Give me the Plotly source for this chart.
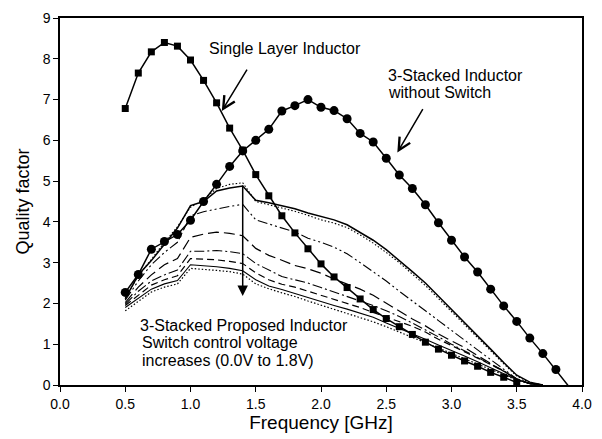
import plotly.graph_objects as go

# Frequency grid (GHz)
freq_single = [0.5, 0.6, 0.7, 0.8, 0.9, 1.0, 1.1, 1.2, 1.3, 1.4, 1.5, 1.6, 1.7, 1.8, 1.9, 2.0,
               2.1, 2.2, 2.3, 2.4, 2.5, 2.6, 2.7, 2.8, 2.9, 3.0, 3.1, 3.2, 3.3, 3.4, 3.5]
q_single = [6.78, 7.65, 8.17, 8.40, 8.31, 7.97, 7.47, 6.92, 6.30, 5.76, 5.16, 4.64, 4.15, 3.73,
            3.34, 2.97, 2.65, 2.39, 2.11, 1.85, 1.63, 1.43, 1.24, 1.05, 0.88, 0.73, 0.59, 0.46,
            0.31, 0.19, 0.06]

freq_stacked = [0.5, 0.6, 0.7, 0.8, 0.9, 1.0, 1.1, 1.2, 1.3, 1.4, 1.5, 1.6, 1.7, 1.8, 1.9, 2.0,
                2.1, 2.2, 2.3, 2.4, 2.5, 2.6, 2.7, 2.8, 2.9, 3.0, 3.1, 3.2, 3.3, 3.4, 3.5, 3.6,
                3.7, 3.8, 3.9]
q_stacked = [2.27, 2.71, 3.33, 3.52, 3.69, 4.04, 4.50, 4.92, 5.36, 5.74, 6.00, 6.27, 6.72, 6.85,
             7.00, 6.81, 6.73, 6.53, 6.17, 5.96, 5.56, 5.15, 4.82, 4.42, 3.98, 3.55, 3.14, 2.77,
             2.35, 1.94, 1.56, 1.15, 0.77, 0.38, -0.04]

freq_prop = [0.5, 0.6, 0.7, 0.8, 0.9, 1.0, 1.1, 1.2, 1.3, 1.4, 1.5, 1.6, 1.7, 1.8, 1.9, 2.0,
             2.1, 2.2, 2.3, 2.4, 2.5, 2.6, 2.7, 2.8, 2.9, 3.0, 3.1, 3.2, 3.3, 3.4, 3.5, 3.6, 3.7]
q_prop = [
    [2.12, 2.70, 3.05, 3.45, 3.85, 4.40, 4.50, 4.76, 4.83, 4.88, 4.53, 4.47, 4.40, 4.32, 4.22,
     4.13, 4.05, 3.93, 3.75, 3.55, 3.32, 3.06, 2.78, 2.50, 2.18, 1.85, 1.52, 1.20, 0.88, 0.55,
     0.24, 0.07, 0.00],
    [2.12, 2.68, 3.08, 3.50, 3.88, 4.36, 4.55, 4.82, 4.92, 4.96, 4.50, 4.42, 4.34, 4.26, 4.16,
     4.05, 3.97, 3.86, 3.68, 3.48, 3.25, 3.00, 2.72, 2.44, 2.12, 1.80, 1.47, 1.15, 0.84, 0.52,
     0.22, 0.06, 0.00],
    [2.08, 2.55, 2.95, 3.25, 3.50, 4.15, 4.25, 4.32, 4.38, 4.43, 4.05, 3.95, 3.85, 3.75, 3.60,
     3.50, 3.38, 3.22, 3.00, 2.78, 2.55, 2.30, 2.05, 1.82, 1.58, 1.33, 1.10, 0.86, 0.62, 0.38,
     0.15, 0.04, 0.00],
    [2.02, 2.40, 2.70, 2.95, 3.10, 3.62, 3.70, 3.75, 3.72, 3.66, 3.35, 3.18, 3.06, 2.93, 2.85,
     2.74, 2.60, 2.48, 2.35, 2.20, 2.00, 1.82, 1.62, 1.45, 1.25, 1.08, 0.92, 0.72, 0.53, 0.35,
     0.14, 0.03, 0.00],
    [1.98, 2.30, 2.55, 2.70, 2.82, 3.28, 3.28, 3.30, 3.27, 3.22, 2.98, 2.82, 2.66, 2.58, 2.50,
     2.39, 2.28, 2.18, 2.06, 1.95, 1.82, 1.68, 1.52, 1.36, 1.18, 1.00, 0.84, 0.68, 0.52, 0.35,
     0.14, 0.03, 0.00],
    [1.95, 2.20, 2.45, 2.58, 2.68, 3.10, 3.08, 3.07, 3.03, 2.98, 2.75, 2.58, 2.47, 2.40, 2.30,
     2.20, 2.10, 1.99, 1.90, 1.78, 1.67, 1.55, 1.44, 1.30, 1.12, 0.97, 0.82, 0.66, 0.50, 0.34,
     0.15, 0.04, 0.00],
    [1.90, 2.12, 2.35, 2.48, 2.56, 2.95, 2.93, 2.90, 2.86, 2.80, 2.58, 2.43, 2.34, 2.24, 2.14,
     2.05, 1.95, 1.86, 1.76, 1.66, 1.52, 1.39, 1.25, 1.12, 0.98, 0.85, 0.71, 0.57, 0.42, 0.28,
     0.13, 0.04, 0.00],
    [1.82, 2.05, 2.28, 2.40, 2.48, 2.86, 2.84, 2.81, 2.78, 2.72, 2.48, 2.36, 2.26, 2.17, 2.06,
     1.96, 1.86, 1.76, 1.66, 1.55, 1.43, 1.30, 1.17, 1.04, 0.90, 0.77, 0.64, 0.51, 0.38, 0.25,
     0.12, 0.03, 0.00],
]
prop_styles = [
    ("solid", 1.5),
    ("1.5px,2px", 1.1),
    ("10px,3px,2px,3px,2px,3px", 1.1),
    ("11px,5px", 1.2),
    ("10px,3px,2px,3px", 1.1),
    ("7px,4px", 1.2),
    ("solid", 1.1),
    ("1.5px,2px", 1.2),
]

x_ticks = [0.0, 0.5, 1.0, 1.5, 2.0, 2.5, 3.0, 3.5, 4.0]
y_ticks = [0, 1, 2, 3, 4, 5, 6, 7, 8, 9]

FONT = "Liberation Sans, Arial, Helvetica, sans-serif"

fig = go.Figure()

for q, (dash, w) in zip(q_prop, prop_styles):
    fig.add_trace(go.Scatter(x=freq_prop, y=q, mode="lines",
                             line=dict(color="black", width=w, dash=dash),
                             showlegend=False, hoverinfo="skip"))

fig.add_trace(go.Scatter(x=freq_single, y=q_single, mode="lines+markers",
                         line=dict(color="black", width=1.5),
                         marker=dict(symbol="square", size=7, color="black", opacity=1),
                         showlegend=False))

# last sample only continues the line down to the axis, without a marker
stacked_sizes = [9] * (len(freq_stacked) - 1) + [0]
fig.add_trace(go.Scatter(x=freq_stacked, y=q_stacked, mode="lines+markers",
                         line=dict(color="black", width=1.5),
                         marker=dict(symbol="circle", size=stacked_sizes, color="black",
                                     opacity=1, line=dict(width=0)),
                         showlegend=False))

text_font = dict(family=FONT, size=16, color="black")
arrow = dict(showarrow=True, arrowcolor="black", arrowwidth=1.5,
             axref="x", ayref="y", xref="x", yref="y")

annotations = [
    dict(x=1.13, y=8.25, text="Single Layer Inductor", showarrow=False,
         xanchor="left", yanchor="middle", font=text_font),
    dict(x=2.50, y=7.60, text="3-Stacked Inductor", showarrow=False,
         xanchor="left", yanchor="middle", font=text_font),
    dict(x=2.50, y=7.18, text="without Switch", showarrow=False,
         xanchor="left", yanchor="middle", font=text_font),
    dict(x=0.595, y=1.46, text="3-Stacked Proposed Inductor", showarrow=False,
         xanchor="left", yanchor="middle", font=text_font),
    dict(x=0.61, y=1.04, text="Switch control voltage", showarrow=False,
         xanchor="left", yanchor="middle", font=text_font),
    dict(x=0.61, y=0.61, text="increases (0.0V to 1.8V)", showarrow=False,
         xanchor="left", yanchor="middle", font=text_font),
    dict(x=1.24, y=6.72, ax=1.44, ay=7.77, text="", arrowhead=5, arrowsize=1.6, **arrow),
    dict(x=2.585, y=5.70, ax=2.787, ay=6.80, text="", arrowhead=5, arrowsize=1.6, **arrow),
    dict(x=1.40, y=2.18, ax=1.40, ay=4.93, text="", arrowhead=2, arrowsize=1.4, **arrow),
]

axis_common = dict(
    showline=True, linecolor="black", linewidth=1.5, mirror=True,
    ticks="outside", ticklen=5, tickwidth=1.2, tickcolor="black",
    showgrid=False, zeroline=False,
    tickfont=dict(family=FONT, size=14, color="black"),
)

fig.update_layout(
    width=602, height=439,
    margin=dict(l=60, r=10, t=14, b=54),
    paper_bgcolor="white", plot_bgcolor="white",
    annotations=annotations,
    xaxis=dict(range=[0, 4], tickvals=x_ticks, ticktext=[f"{v:.1f}" for v in x_ticks],
               title=dict(text="Frequency [GHz]", font=dict(family=FONT, size=19, color="black"),
                          standoff=4),
               **axis_common),
    yaxis=dict(range=[0, 9], tickvals=y_ticks,
               title=dict(text="Quality factor", font=dict(family=FONT, size=18, color="black"),
                          standoff=8),
               **axis_common),
)

fig.write_html("out.html")
